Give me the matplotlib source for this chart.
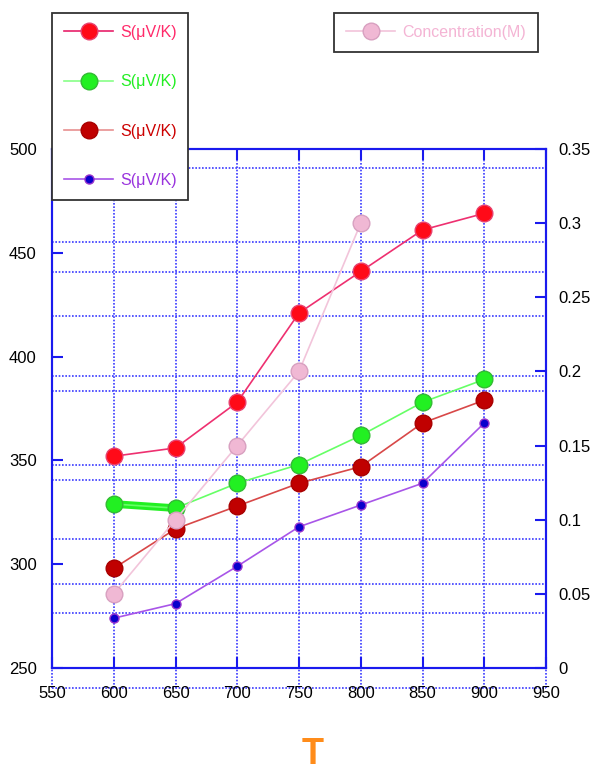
import matplotlib
matplotlib.use("Agg")
import matplotlib.pyplot as plt
from matplotlib.lines import Line2D

plt.rcParams['font.family'] = ['Liberation Sans', 'DejaVu Sans']

# ---- data ----
T = [600, 650, 700, 750, 800, 850, 900]
S_red = [352, 356, 378, 421, 441, 461, 469]
S_green = [329, 327, 339, 348, 362, 378, 389]
S_darkred = [298, 317, 328, 339, 347, 368, 379]
S_purple = [274, 281, 299, 318, 328.5, 339, 368]
T_conc = [600, 650, 700, 750, 800]
conc = [0.05, 0.10, 0.15, 0.20, 0.30]

x_ticks = [550, 600, 650, 700, 750, 800, 850, 900, 950]
y_ticks = [250, 300, 350, 400, 450, 500]
y2_ticks = [0, 0.05, 0.1, 0.15, 0.2, 0.25, 0.3, 0.35]
y2_labels = ["0", "0.05", "0.1", "0.15", "0.2", "0.25", "0.3", "0.35"]
grid_levels = [490.7, 455.1, 440.8, 419.6, 390.7, 383.6, 347.8, 340.6, 312.0, 290.5, 276.4]

label_S = "S(\u03bcV/K)"
label_C = "Concentration(M)"

# ---- styles ----
BLUE = '#1a1aee'
GRID = '#3a3aff'
red = dict(line='#ee3070', face='#ff0a18', edge='#e8406e', text='#ff2a6a')
green = dict(line='#66ff66', face='#22f022', edge='#33bb33', text='#22ee22')
dred = dict(line='#d84848', face='#c00000', edge='#a80000', text='#cc0000')
purp = dict(line='#a855e8', face='#0a00cc', edge='#9933cc', text='#9933dd')
pink = dict(line='#f2c4da', face='#f0b8d4', edge='#d8a0c0', text='#f4b4d4')

W, H = 591, 771
fig = plt.figure(figsize=(W / 100, H / 100), dpi=100)
L, R, Tp, B = 52, 546, 149, 668
ax = fig.add_axes([L / W, 1 - B / H, (R - L) / W, (B - Tp) / H])
ax2 = ax.twinx()

ax.set_xlim(550, 950)
ax.set_ylim(250, 500)
ax2.set_ylim(0, 0.35)

# grid
ax.set_xticks(x_ticks)
ax.set_yticks(y_ticks)
ax.grid(False)
for xv in x_ticks:
    ax.axvline(xv, ymin=-0.0385, ymax=1, color=GRID, lw=1.2, ls=(0, (1, 1)),
               clip_on=False, zorder=0.5)
for yv in grid_levels:
    ax.axhline(yv, color=GRID, lw=1.2, ls=(0, (1, 1)), zorder=0.5)
ax.plot([0, 1], [-0.0385, -0.0385], transform=ax.transAxes, color=GRID, lw=1.2,
        ls=(0, (1, 1)), clip_on=False, zorder=0.5)

ms_big = 12
# thick green segment
ax.plot(T[:2], S_green[:2], color='#22f022', lw=5.5, solid_capstyle='butt', zorder=2)
ax.plot(T, S_red, color=red['line'], lw=1.2, marker='o', ms=ms_big,
        mfc=red['face'], mec=red['edge'], mew=1, zorder=3)
ax.plot(T, S_green, color=green['line'], lw=1.2, marker='o', ms=ms_big,
        mfc=green['face'], mec=green['edge'], mew=1, zorder=3)
ax.plot(T, S_darkred, color=dred['line'], lw=1.2, marker='o', ms=ms_big,
        mfc=dred['face'], mec=dred['edge'], mew=1, zorder=3)
ax.plot(T, S_purple, color=purp['line'], lw=1.2, marker='o', ms=6.5,
        mfc=purp['face'], mec=purp['edge'], mew=1, zorder=3)
ax2.plot(T_conc, conc, color=pink['line'], lw=1.2, marker='o', ms=ms_big,
         mfc=pink['face'], mec=pink['edge'], mew=1, zorder=3)

# axes styling
for a in (ax, ax2):
    for s in a.spines.values():
        s.set_color(BLUE)
        s.set_linewidth(1.5)
ax.tick_params(axis='both', which='major', direction='in', length=8, width=1.5,
               color=BLUE, labelsize=12, top=True)
ax.tick_params(axis='y', which='major', pad=11, right=False)
ax.tick_params(axis='x', which='major', pad=13)
ax2.set_yticks(y2_ticks)
ax2.set_yticklabels(y2_labels)
ax2.tick_params(axis='y', direction='in', length=8, width=1.5, color=BLUE,
                labelsize=12, pad=9)

# legends
def handle(st, ms, legline=None):
    return Line2D([], [], color=legline or st['line'], lw=1.2, marker='o', ms=ms,
                  mfc=st['face'], mec=st['edge'], mew=1)

h1 = [handle(red, ms_big, '#e8206a'), handle(green, ms_big, '#88ff88'),
      handle(dred, ms_big, '#e89090'), handle(purp, 6.5)]
leg1 = fig.legend(h1, [label_S] * 4, loc='upper left',
                  bbox_to_anchor=(L / W, 1 - 13 / H), fontsize=11.5,
                  labelspacing=2.15, borderpad=0.75, handlelength=3.1,
                  handletextpad=0.4, borderaxespad=0, fancybox=False,
                  framealpha=1, edgecolor='#333333')
leg1.get_frame().set_linewidth(1.3)
for t, st in zip(leg1.get_texts(), [red, green, dred, purp]):
    t.set_color(st['text'])

leg2 = fig.legend([handle(pink, ms_big)], [label_C], loc='upper left',
                  bbox_to_anchor=(334 / W, 1 - 13 / H), fontsize=11.5,
                  borderpad=0.75, handlelength=3.1, handletextpad=0.4,
                  borderaxespad=0, fancybox=False, framealpha=1,
                  edgecolor='#333333')
leg2.get_frame().set_linewidth(1.3)
leg2.get_texts()[0].set_color(pink['text'])

fig.text(313 / W, 1 - 764 / H, "T", color='#ff8c1a', fontsize=26,
         fontweight='bold', ha='center', va='baseline')

fig.savefig("out.png", dpi=100)
